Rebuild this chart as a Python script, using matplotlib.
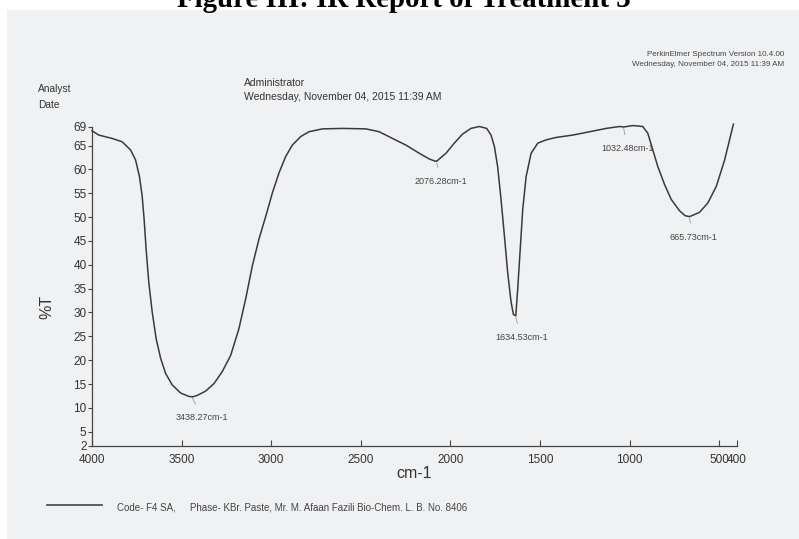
import numpy as np
import matplotlib as mpl
mpl.use('Agg')
import matplotlib.pyplot as plt
from matplotlib.patches import Rectangle

plt.rcParams['font.family'] = ['Liberation Sans', 'DejaVu Sans']

# IR spectrum trace, wavenumber (cm-1) vs %T
wavenumber = [4000, 3962, 3888, 3832, 3785, 3757, 3735, 3720, 3709, 3698,
              3683, 3664, 3642, 3617, 3589, 3552, 3505, 3459, 3438.27, 3413,
              3366, 3319, 3273, 3226, 3180, 3142, 3105, 3068, 3030, 2993,
              2956, 2919, 2882, 2835, 2789, 2714, 2600, 2471, 2397, 2323,
              2248, 2174, 2118, 2090, 2076.28, 2062, 2024, 1978, 1932, 1885,
              1838, 1797, 1773, 1754, 1736, 1717, 1698, 1680, 1661, 1648,
              1634.53, 1624, 1611, 1596, 1577, 1549, 1512, 1465, 1410, 1317,
              1223, 1130, 1056, 1032.48, 981, 926, 898, 870, 842, 804,
              767, 720, 690, 665.73, 646, 609, 562, 515, 469, 420]
transmittance = [68.1, 67.2, 66.5, 65.8, 64.1, 62.0, 58.5, 54.4, 49.5, 43.3,
                 36.3, 30.1, 24.5, 20.4, 17.2, 14.8, 13.1, 12.4, 12.3, 12.6,
                 13.5, 15.1, 17.6, 21.0, 26.6, 32.9, 39.8, 45.4, 50.2, 55.1,
                 59.3, 62.7, 65.1, 66.9, 67.9, 68.5, 68.6, 68.5, 67.9, 66.5,
                 65.1, 63.4, 62.2, 61.8, 61.7, 62.2, 63.4, 65.5, 67.4, 68.6,
                 69.0, 68.6, 67.2, 64.8, 60.6, 53.7, 46.0, 38.4, 32.2, 29.6,
                 29.3, 34.9, 42.6, 51.6, 58.5, 63.4, 65.5, 66.2, 66.7, 67.2,
                 67.9, 68.6, 69.0, 68.9, 69.2, 69.0, 67.6, 64.1, 60.6, 56.8,
                 53.7, 51.3, 50.3, 50.1, 50.4, 51.0, 53.0, 56.5, 62.0, 69.5]

peak_wn = [3438.27, 2076.28, 1634.53, 1032.48, 665.73]
peak_t = [12.3, 61.7, 29.3, 68.9, 50.1]
peak_text = ["3438.27cm-1", "2076.28cm-1", "1634.53cm-1", "1032.48cm-1", "665.73cm-1"]
# label offsets in data units (wavenumber, %T)
label_dx = [-52, -26, -31, -22, -23]
label_dt = [-4.4, -4.2, -4.5, -4.6, -4.3]

xticks = [4000, 3500, 3000, 2500, 2000, 1500, 1000, 500, 400]
yticks = [2, 5, 10, 15, 20, 25, 30, 35, 40, 45, 50, 55, 60, 65, 69]

W, H = 799, 539
fig = plt.figure(figsize=(W / 100, H / 100), dpi=100, facecolor='white')

# scanned page
fig.patches.append(Rectangle((7 / W, 0), 1, 1 - 10 / H, transform=fig.transFigure,
                             facecolor='#f0f1f3', edgecolor='none', zorder=-10))

ax = fig.add_axes([92 / W, 1 - 446 / H, (737 - 92) / W, (446 - 126.5) / H])
ax.set_facecolor('none')
ax.plot(wavenumber, transmittance, color='#3a3a3a', lw=1.1, clip_on=False)
ax.set_xlim(4000, 400)
ax.set_ylim(2, 69)

for wn, t, txt, dx, dt in zip(peak_wn, peak_t, peak_text, label_dx, label_dt):
    ax.annotate(txt, xy=(wn, t - 0.3), xytext=(wn + dx, t + dt),
                ha='center', va='center', fontsize=6.5, color='#444444',
                arrowprops=dict(arrowstyle='-', color='#9a9a9a', lw=0.6,
                                shrinkA=5, shrinkB=0))

for s in ['top', 'right']:
    ax.spines[s].set_visible(False)
for s in ['left', 'bottom']:
    ax.spines[s].set_color('#444444')
    ax.spines[s].set_linewidth(0.9)

ax.set_xticks(xticks)
ax.set_xticklabels([str(v) for v in xticks])
ax.set_yticks(yticks)
ax.set_yticklabels([str(v) for v in yticks])
ax.tick_params(axis='x', direction='in', length=4, labelsize=8.5, pad=6,
               colors='#444444', labelcolor='#333333')
ax.tick_params(axis='y', direction='out', length=3, labelsize=8.5, pad=1,
               colors='#444444', labelcolor='#333333')

ax.set_xlabel('cm-1', fontsize=11.5, color='#333333', labelpad=0)
fig.text(47 / W, 1 - 307 / H, '%T', rotation=90, fontsize=11.5, color='#333333',
         ha='center', va='center')

# report header
fig.text(404 / W, 1 - 7 / H, 'Figure III: IR Report of Treatment 3',
         family='Liberation Serif', weight='bold', fontsize=20.8,
         ha='center', va='baseline', color='black')
fig.text(784 / W, 1 - 55 / H, 'PerkinElmer Spectrum Version 10.4.00', fontsize=5.8,
         ha='right', va='center', color='#444444')
fig.text(784 / W, 1 - 65 / H, 'Wednesday, November 04, 2015 11:39 AM', fontsize=5.8,
         ha='right', va='center', color='#444444')
fig.text(38 / W, 1 - 89 / H, 'Analyst', fontsize=7.3, ha='left', va='center', color='#333333')
fig.text(38 / W, 1 - 104.5 / H, 'Date', fontsize=7.3, ha='left', va='center', color='#333333')
fig.text(244 / W, 1 - 82.5 / H, 'Administrator', fontsize=7.5, ha='left', va='center',
         color='#333333')
fig.text(244 / W, 1 - 97 / H, 'Wednesday, November 04, 2015 11:39 AM', fontsize=7.5,
         ha='left', va='center', color='#333333')

# legend line and sample description
fig.add_artist(plt.Line2D([47 / W, 102 / W], [1 - 505 / H, 1 - 505 / H],
                          color='#444444', lw=1.2))
fig.text(117 / W, 1 - 507 / H, 'Code- F4 SA,', fontsize=7, ha='left', va='center',
         color='#444444')
fig.text(190 / W, 1 - 507 / H,
         'Phase- KBr. Paste, Mr. M. Afaan Fazili Bio-Chem. L. B. No. 8406',
         fontsize=7, ha='left', va='center', color='#444444')

plt.savefig('out.png', dpi=100)
